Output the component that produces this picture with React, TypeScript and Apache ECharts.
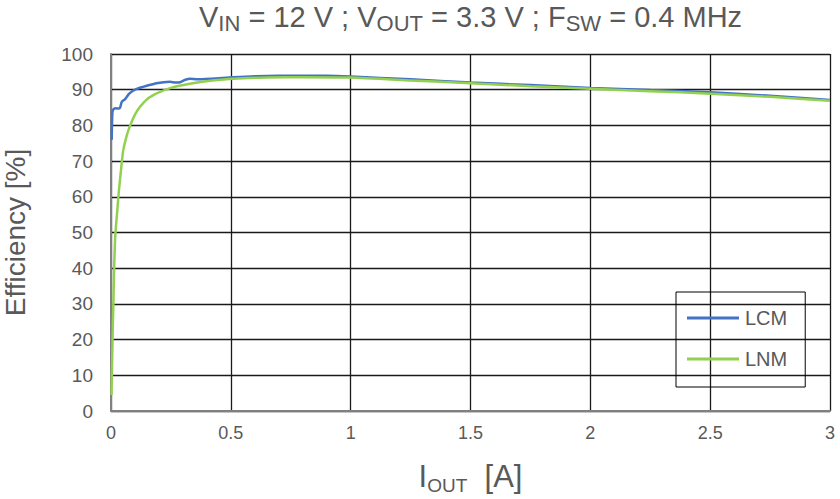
import React, { useEffect, useRef } from "react";
import * as echarts from "echarts";

const lcmCurrent = [0.003, 0.006, 0.012, 0.02, 0.03, 0.038, 0.045, 0.058, 0.075, 0.092, 0.11, 0.134, 0.16, 0.19, 0.22, 0.246, 0.27, 0.288, 0.31, 0.33, 0.36, 0.42, 0.51, 0.6, 0.7, 0.8, 0.9, 1.0, 1.25, 1.5, 1.75, 2.0, 2.25, 2.5, 2.75, 3.0];
const lcmEff = [76, 83.8, 84.6, 84.8, 84.7, 85.0, 86.6, 87.3, 88.8, 89.7, 90.3, 90.8, 91.3, 91.8, 92.1, 92.2, 92.0, 92.1, 92.8, 93.1, 92.9, 93.1, 93.5, 93.8, 93.9, 93.9, 93.9, 93.7, 92.9, 92.0, 91.3, 90.5, 89.9, 89.3, 88.3, 87.1];

const lnmCurrent = [0.002, 0.005, 0.008, 0.01, 0.013, 0.017, 0.021, 0.026, 0.032, 0.038, 0.044, 0.051, 0.065, 0.079, 0.1, 0.121, 0.15, 0.18, 0.205, 0.25, 0.302, 0.36, 0.413, 0.51, 0.65, 0.8, 1.0, 1.25, 1.5, 1.75, 2.0, 2.25, 2.5, 2.75, 3.0];
const lnmEff = [4.5, 15, 25, 30, 40, 48, 52, 56, 61, 65, 69, 73, 77, 79.8, 83, 85.2, 87.3, 88.6, 89.4, 90.5, 91.3, 92.0, 92.5, 93.1, 93.4, 93.5, 93.4, 92.6, 91.8, 91.0, 90.3, 89.6, 88.9, 88.0, 86.9];

const seriesNames = ["LCM", "LNM"];
const seriesColors = ["#4472C4", "#92D050"];
const xTicks = { min: 0, max: 3, interval: 0.5 };
const yTicks = { min: 0, max: 100, interval: 10 };

const FONT = "'Liberation Sans', Arial, sans-serif";

export default function App() {
  const ref = useRef<HTMLDivElement>(null);
  useEffect(() => {
    if (!ref.current) return;
    const chart = echarts.init(ref.current, null, { renderer: "svg" });
    const pairs = (xs: number[], ys: number[]) => xs.map((x, i) => [x, ys[i]]);
    chart.setOption({
      animation: false,
      textStyle: { fontFamily: FONT },
      title: {
        text: "{m|V}{s|IN}{m| = 12 V ; V}{s|OUT}{m| = 3.3 V ; F}{s|SW}{m| = 0.4 MHz}",
        left: 199,
        top: 0,
        padding: 0,
        textStyle: {
          fontWeight: "normal",
          rich: {
            m: { fontSize: 29, fontWeight: "normal", color: "#595959", fontFamily: FONT },
            s: { fontSize: 22, fontWeight: "normal", color: "#595959", fontFamily: FONT, padding: [12, 0, 0, 0] },
          },
        },
      },
      grid: { left: 111, right: 10, top: 54, bottom: 88, containLabel: false, outerBoundsMode: "none" },
      legend: {
        orient: "vertical",
        left: 676,
        top: 292,
        width: 132,
        padding: [16, 18, 18, 11],
        itemGap: 21,
        itemWidth: 52,
        itemHeight: 3,
        icon: "rect",
        borderColor: "#000",
        borderWidth: 1,
        data: seriesNames,
        textStyle: { fontSize: 20, color: "#595959", fontFamily: FONT, lineHeight: 20, padding: [0, 0, 0, 1] },
      },
      xAxis: {
        type: "value",
        min: xTicks.min,
        max: xTicks.max,
        interval: xTicks.interval,
        name: "{m|I}{s|OUT}{m|  [A]}",
        nameLocation: "middle",
        nameGap: 47,
        nameTextStyle: {
          rich: {
            m: { fontSize: 31, color: "#595959", fontFamily: FONT },
            s: { fontSize: 19, color: "#595959", fontFamily: FONT, padding: [18, 0, 0, 0] },
          },
        },
        axisLine: { show: true, lineStyle: { color: "#808080", width: 2 } },
        axisTick: { show: false },
        axisLabel: { fontSize: 18, color: "#595959", margin: 13, formatter: (v: number) => String(v) },
        splitLine: { show: true, lineStyle: { color: "#1a1a1a", width: 1.3 } },
      },
      yAxis: {
        type: "value",
        min: yTicks.min,
        max: yTicks.max,
        interval: yTicks.interval,
        name: "Efficiency [%]",
        nameLocation: "middle",
        nameGap: 82,
        nameRotate: 90,
        nameTextStyle: { fontSize: 28, color: "#595959", fontFamily: FONT },
        axisLine: { show: true, lineStyle: { color: "#808080", width: 2 } },
        axisTick: { show: false },
        axisLabel: { fontSize: 19, color: "#595959", margin: 18 },
        splitLine: { show: true, lineStyle: { color: "#1a1a1a", width: 1.3 } },
      },
      series: [
        {
          name: seriesNames[0],
          type: "line",
          data: pairs(lcmCurrent, lcmEff),
          symbol: "none",
          smooth: 0.2,
          lineStyle: { color: seriesColors[0], width: 2.5 },
          itemStyle: { color: seriesColors[0] },
          z: 3,
        },
        {
          name: seriesNames[1],
          type: "line",
          data: pairs(lnmCurrent, lnmEff),
          symbol: "none",
          smooth: 0.2,
          lineStyle: { color: seriesColors[1], width: 2.5 },
          itemStyle: { color: seriesColors[1] },
          z: 4,
        },
      ],
    });
    return () => chart.dispose();
  }, []);
  return <div ref={ref} style={{ position: "absolute", left: 0, top: 0, width: 840, height: 499 }} />;
}
